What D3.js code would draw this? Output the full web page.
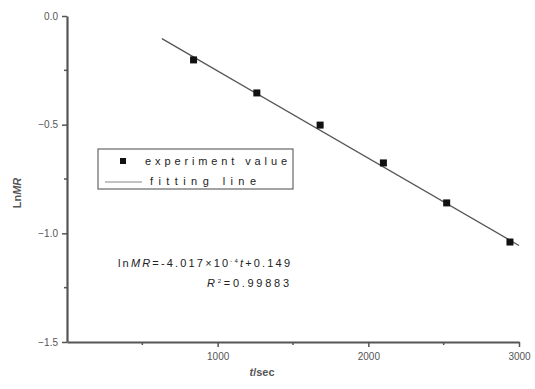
<!DOCTYPE html>
<html>
<head>
<meta charset="utf-8">
<style>
  body { margin: 0; background: #fff; }
  text { font-family: "Liberation Sans", Arial, sans-serif; fill: #555; }
  .axis path, .axis line { stroke: #555; }
</style>
</head>
<body>
<div id="chart"></div>
<script src="https://cdn.jsdelivr.net/npm/d3@7"></script>
<script>
// experimental points
var times = [840, 1260, 1680, 2100, 2520, 2940];
var lnMR = [-0.202, -0.354, -0.502, -0.676, -0.860, -1.040];
// fitted line lnMR = slope*t + intercept
var slope = -4.017e-4, intercept = 0.149;
var fitRange = [630, 3000];
var xTicks = [1000, 2000, 3000];
var yTicks = [0.0, -0.5, -1.0, -1.5];

var width = 535, height = 389;
var svg = d3.select("#chart").append("svg")
    .attr("width", width).attr("height", height);

var x = d3.scaleLinear().domain([0, 3000]).range([67, 519]);
var y = d3.scaleLinear().domain([0, -1.5]).range([16, 342]);

// axes
var xAxis = svg.append("g").attr("class", "axis")
    .attr("transform", "translate(0," + y(-1.5) + ")")
    .call(d3.axisBottom(x).tickValues(xTicks).tickSize(5).tickPadding(6).tickSizeOuter(0)
        .tickFormat(d3.format("d")));
var yAxis = svg.append("g").attr("class", "axis")
    .attr("transform", "translate(" + x(0) + ",0)")
    .call(d3.axisLeft(y).tickValues(yTicks).tickSize(5).tickPadding(4).tickSizeOuter(0)
        .tickFormat(d3.format(".1f")));
[xAxis, yAxis].forEach(function(a) {
    a.select(".domain").attr("stroke-width", 2.2);
    a.selectAll("line").attr("stroke-width", 1.5);
    a.selectAll("text").style("font-size", "10px").style("fill", "#555");
});

// minor ticks
svg.append("g").selectAll("line").data([500, 1500, 2500]).enter().append("line")
    .attr("x1", function(d) { return x(d); }).attr("x2", function(d) { return x(d); })
    .attr("y1", y(-1.5)).attr("y2", y(-1.5) + 3)
    .attr("stroke", "#555").attr("stroke-width", 1.5);
svg.append("g").selectAll("line").data([-0.25, -0.75, -1.25]).enter().append("line")
    .attr("y1", function(d) { return y(d); }).attr("y2", function(d) { return y(d); })
    .attr("x1", x(0)).attr("x2", x(0) - 3)
    .attr("stroke", "#555").attr("stroke-width", 1.5);

// axis titles
svg.append("text").attr("transform", "translate(21,193) rotate(-90)")
    .attr("text-anchor", "middle").style("font-size", "11px").style("font-weight", "bold")
    .html('Ln<tspan font-style="italic">MR</tspan>');
svg.append("text").attr("x", 262).attr("y", 376)
    .attr("text-anchor", "middle").style("font-size", "11px").style("font-weight", "bold")
    .html('<tspan font-style="italic">t</tspan>/sec');

// fitting line
var line = d3.line()
    .x(function(d) { return x(d); })
    .y(function(d) { return y(slope * d + intercept); });
svg.append("path").datum(fitRange)
    .attr("d", line).attr("fill", "none")
    .attr("stroke", "#555").attr("stroke-width", 1.3);

// points
svg.append("g").selectAll("rect").data(times).enter().append("rect")
    .attr("x", function(d) { return x(d) - 3.5; })
    .attr("y", function(d, i) { return y(lnMR[i]) - 3.5; })
    .attr("width", 7).attr("height", 7).attr("fill", "#111");

// legend
var lg = svg.append("g");
lg.append("rect").attr("x", 98).attr("y", 149).attr("width", 195).attr("height", 40)
    .attr("fill", "#fff").attr("stroke", "#666").attr("stroke-width", 1.2);
lg.append("rect").attr("x", 120).attr("y", 158).attr("width", 6).attr("height", 6).attr("fill", "#111");
lg.append("text").attr("x", 145).attr("y", 165).attr("textLength", 142).attr("lengthAdjust", "spacing")
    .style("font-size", "11px").style("fill", "#222").text("experiment value");
lg.append("line").attr("x1", 105).attr("x2", 142).attr("y1", 182).attr("y2", 182)
    .attr("stroke", "#888").attr("stroke-width", 1.2);
lg.append("text").attr("x", 150).attr("y", 185).attr("textLength", 106).attr("lengthAdjust", "spacing")
    .style("font-size", "11px").style("fill", "#222").text("fitting line");

// equation
svg.append("text").attr("x", 118).attr("y", 267).attr("textLength", 172).attr("lengthAdjust", "spacing")
    .style("font-size", "11px").style("fill", "#222")
    .html('ln<tspan font-style="italic">MR</tspan>=-4.017×10<tspan dy="-4" font-size="6px">-4</tspan><tspan dy="4" font-style="italic">t</tspan>+0.149');
svg.append("text").attr("x", 207).attr("y", 287).attr("textLength", 82).attr("lengthAdjust", "spacing")
    .style("font-size", "11px").style("fill", "#222")
    .html('<tspan font-style="italic">R</tspan><tspan dy="-4" font-size="6px">2</tspan><tspan dy="4">=0.99883</tspan>');
</script>
</body>
</html>
